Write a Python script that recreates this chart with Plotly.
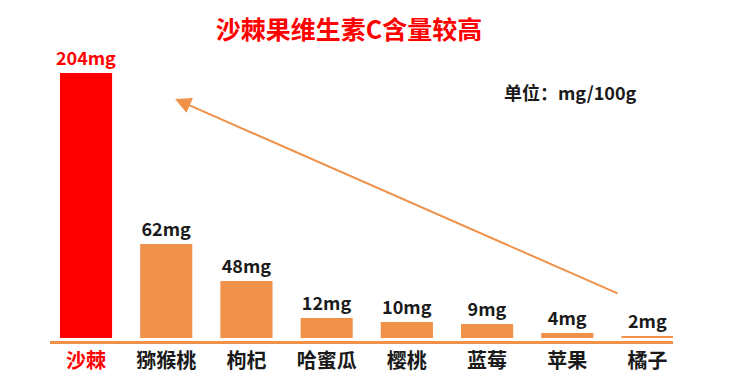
import plotly.graph_objects as go

# Categories and values
fruits = ["沙棘", "猕猴桃", "枸杞", "哈蜜瓜", "樱桃", "蓝莓", "苹果", "橘子"]
vitamin_c_mg = [204, 62, 48, 12, 10, 9, 4, 2]
# drawn (stylised, not-to-scale) bar heights as they appear in the picture
bar_heights = [265, 94, 57, 20, 16, 14, 5, 2]

RED = "#FF0000"
ORANGE = "#F0914A"
DARK = "#1A1A1A"
FONT = "Noto Sans CJK SC"

bar_colors = [RED] + [ORANGE] * (len(fruits) - 1)
label_colors = [RED] + [DARK] * (len(fruits) - 1)
value_text = [f"{v}mg" for v in vitamin_c_mg]
tick_text = [f"<span style='color:{c}'>{f}</span>" for f, c in zip(fruits, label_colors)]

W, H = 750, 378
L, R, T, B = 50, 77, 60, 37
PW, PH = W - L - R, H - T - B

fig = go.Figure()
fig.add_trace(go.Bar(
    x=list(range(len(fruits))),
    y=bar_heights,
    marker=dict(color=bar_colors, line=dict(width=0)),
    width=0.65,
    text=value_text,
    textposition="outside",
    constraintext="none",
    textfont=dict(family=FONT, size=18, color=label_colors, weight="bold"),
    cliponaxis=False,
    hoverinfo="skip",
))

# arrow
fig.add_annotation(
    x=1.11, y=239, ax=6.645, ay=44,
    xref="x", yref="y", axref="x", ayref="y",
    showarrow=True, arrowhead=2, arrowsize=1.6, arrowwidth=2,
    arrowcolor=ORANGE, text="",
)

# unit label
fig.add_annotation(
    x=(502 - L) / PW, y=(H - B - 92) / PH, xref="paper", yref="paper",
    xanchor="left", yanchor="middle", showarrow=False,
    text="单位：mg/100g",
    font=dict(family=FONT, size=18, color=DARK, weight="bold"),
)

fig.update_layout(
    width=W, height=H,
    margin=dict(l=L, r=R, t=T, b=B, autoexpand=False),
    paper_bgcolor="white", plot_bgcolor="white",
    showlegend=False,
    title=dict(
        text="沙棘果维生素C含量较高",
        x=349 / W, xanchor="center", xref="container",
        y=1 - 30 / H, yanchor="middle", yref="container",
        font=dict(family=FONT, size=25, color=RED, weight="bold"),
    ),
)

fig.update_xaxes(
    range=[-0.449, 7.318],
    tickmode="array", tickvals=list(range(len(fruits))), ticktext=tick_text,
    tickfont=dict(family=FONT, size=20, color=DARK, weight="bold"),
    showline=True, linecolor=ORANGE, linewidth=3,
    showgrid=False, zeroline=False, ticks="",
)
fig.update_yaxes(
    range=[-3, 278], visible=False, showgrid=False, zeroline=False,
)

fig.write_html(
    "out.html",
    config={"displayModeBar": False},
    post_script="document.body.style.margin='0';document.body.style.overflow='hidden';",
)
